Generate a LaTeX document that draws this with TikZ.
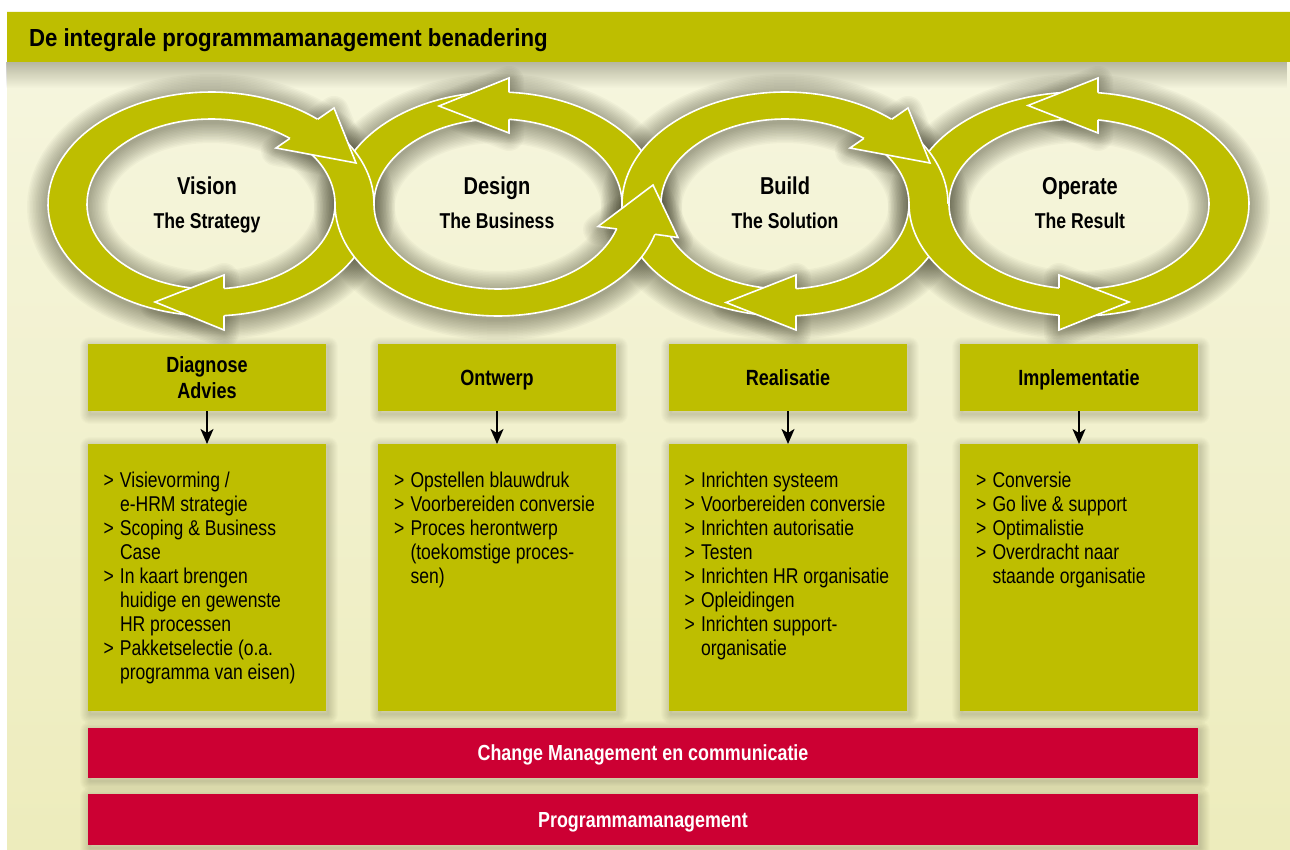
\documentclass[tikz,border=0pt]{standalone}
\usepackage{fontspec}
\setmainfont[FakeStretch=0.82]{Liberation Sans}
\newfontfamily\titlefont[FakeStretch=0.9]{Liberation Sans}
\usetikzlibrary{fadings,arrows.meta}
\definecolor{olivegreen}{RGB}{190,190,0}
\definecolor{barred}{RGB}{204,0,51}
\definecolor{bgtop}{RGB}{246,246,224}
\definecolor{bgbot}{RGB}{237,236,188}
\definecolor{shadowc}{RGB}{40,40,20}

\newcommand\ringpiece[5]{%
 \fill[olivegreen] plot[domain=#4:#5,samples=90,variable=\t] ({#1+#2*cos(\t)},{204+112*sin(\t)}) -- plot[domain=#5:#4,samples=90,variable=\t] ({#1+#3*cos(\t)},{204+85*sin(\t)}) -- cycle;
 \draw[ringedge] plot[domain=#4:#5,samples=90,variable=\t] ({#1+#2*cos(\t)},{204+112*sin(\t)});
 \draw[ringedge] plot[domain=#4:#5,samples=90,variable=\t] ({#1+#3*cos(\t)},{204+85*sin(\t)});}
\newcommand\ringglow[3]{%
 \foreach \w in {3,6,...,42}{%
  \draw[glow=\w pt] plot[domain=0:360,samples=120,variable=\t] ({#1+#2*cos(\t)},{207+112*sin(\t)}) -- cycle;
  \draw[glow=\w pt] plot[domain=0:360,samples=120,variable=\t] ({#1+#3*cos(\t)},{207+85*sin(\t)}) -- cycle;}}
\newcommand\arrowhd[5]{%
 \fill[olivegreen] #1 -- #2 -- #3 -- #4 -- #5 -- cycle;
 \draw[ringedge] #1 -- #2 -- #3 -- #4 -- #5;}
\newcommand\arrowglow[5]{%
 \foreach \w in {3,6,...,30}{\draw[glow=\w pt] #1 -- #2 -- #3 -- #4 -- #5 -- cycle;}}
\newcommand\boxglow[4]{%
 \foreach \w in {2,4,...,20}{\draw[boxglowline=\w pt] (#1+2,#2+3) rectangle (#3+2,#4+3);}}
\newcommand\itm{\makebox[16.5pt][l]{>}}
\newcommand\cnt{\hspace*{16.5pt}}

\begin{document}
\begin{tikzpicture}[x=1pt,y=-1pt,
  every node/.style={inner sep=0pt,outer sep=0pt},
  ringedge/.style={draw=white,line width=1.6pt,line join=miter},
  glow/.style={draw=shadowc,line width=#1,draw opacity=0.032,line join=round},
  boxglowline/.style={draw=shadowc,line width=#1,draw opacity=0.018,line join=round},
  hdr/.style={fill=olivegreen,minimum width=238pt,minimum height=67pt,align=center,
              font=\bfseries\fontsize{22}{26}\selectfont,text height=15.8pt,text depth=0pt},
  cbox/.style={fill=olivegreen,minimum width=238pt,minimum height=267pt},
  ctext/.style={anchor=north west,align=left,font=\fontsize{21.4}{24}\selectfont},
  redbar/.style={fill=barred,minimum width=1110pt,text=white,
                 font=\bfseries\fontsize{21.8}{26}\selectfont,text height=15.8pt,text depth=0pt},
  ringtitle/.style={anchor=base,font=\bfseries\fontsize{24.4}{28}\selectfont},
  ringsub/.style={anchor=base,font=\bfseries\fontsize{21.5}{26}\selectfont},
  hdrarrow/.style={-{Stealth[length=15pt,width=13pt,inset=4pt]},line width=1.8pt}]

\useasboundingbox (0,0) rectangle (1290,850);
\fill[white] (0,0) rectangle (1290,850);
\shade[top color=bgtop,bottom color=bgbot] (7,12) rectangle (1290,850);
% title bar
\fill[shadowc,opacity=0.3,path fading=south] (7,62) rectangle (1290,88);
\fill[olivegreen] (7,12) rectangle (1290,62);
\node[anchor=base west,font=\titlefont\bfseries\fontsize{24.7}{28}\selectfont] (title) at (29,46.7) {De integrale programmamanagement benadering};

% shadows of the rings and arrowheads
\ringglow{211}{163}{124}
\ringglow{498}{163}{124}
\ringglow{785}{163}{124}
\ringglow{1079}{170}{130}
\arrowglow{(317.8,122)}{(334,111)}{(356,166)}{(276,151)}{(289.9,141)}
\arrowglow{(224,291)}{(224,278)}{(155,305)}{(224,333)}{(224,318)}
\arrowglow{(509,95)}{(509,81)}{(439,109)}{(509,136)}{(509,122)}
\arrowglow{(617,232)}{(598,229.5)}{(653,188)}{(678,240.5)}{(655,237)}
\arrowglow{(891.8,122)}{(908,111)}{(930,166)}{(850,151)}{(863.9,141)}
\arrowglow{(796,291)}{(796,278)}{(726,305.5)}{(796,333)}{(796,318)}
\arrowglow{(1098,95)}{(1098,81)}{(1028,108.5)}{(1098,136)}{(1098,122)}
\arrowglow{(1059,291)}{(1059,278)}{(1129,305)}{(1059,333)}{(1059,318)}

% ring pieces passing underneath
\ringpiece{211}{163}{124}{0}{270}
\ringpiece{498}{163}{124}{180}{360}
\ringpiece{785}{163}{124}{0}{180}
\ringpiece{1079}{170}{130}{180}{450}
% ring pieces passing on top
\ringpiece{211}{163}{124}{270}{360}
\ringpiece{498}{163}{124}{0}{180}
\ringpiece{785}{163}{124}{180}{360}
\ringpiece{1079}{170}{130}{90}{180}

% arrowheads
\arrowhd{(317.8,119.2)}{(334,108)}{(356,163)}{(276,148)}{(289.9,138.4)}
\arrowhd{(224,288.5)}{(224,275)}{(155,302)}{(224,330)}{(224,315.6)}
\arrowhd{(509,92.3)}{(509,78)}{(439,106)}{(509,133)}{(509,119.3)}
\arrowhd{(617,229)}{(598,226.5)}{(653,185)}{(678,237.5)}{(655,234.3)}
\arrowhd{(891.8,119.2)}{(908,108)}{(930,163)}{(850,148)}{(863.9,138.4)}
\arrowhd{(796,288.7)}{(796,275)}{(726,302.5)}{(796,330)}{(796,315.7)}
\arrowhd{(1098,92.7)}{(1098,78)}{(1028,105.5)}{(1098,133)}{(1098,119.9)}
\arrowhd{(1059,288)}{(1059,275)}{(1129,302)}{(1059,330)}{(1059,315.2)}

% ring texts
\node[ringtitle] (t1) at (207,195) {Vision};
\node[ringsub] (s1) at (207,228.3) {The Strategy};
\node[ringtitle] (t2) at (497,195) {Design};
\node[ringsub] (s2) at (497,228.3) {The Business};
\node[ringtitle] (t3) at (785,195) {Build};
\node[ringsub] (s3) at (785,228.3) {The Solution};
\node[ringtitle] (t4) at (1080,195) {Operate};
\node[ringsub] (s4) at (1080,228.3) {The Result};

% soft shadows of boxes and bars
\boxglow{88}{344}{326}{411}
\boxglow{378}{344}{616}{411}
\boxglow{669}{344}{907}{411}
\boxglow{960}{344}{1198}{411}
\boxglow{88}{444}{326}{711}
\boxglow{378}{444}{616}{711}
\boxglow{669}{444}{907}{711}
\boxglow{960}{444}{1198}{711}
\boxglow{88}{728}{1198}{778}
\boxglow{88}{794}{1198}{845}

% header boxes
\node[hdr,text height=41.8pt] (h1) at (207,377.5) {Diagnose\\Advies};
\node[hdr] (h2) at (497,377.5) {Ontwerp};
\node[hdr] (h3) at (788,377.5) {Realisatie};
\node[hdr] (h4) at (1079,377.5) {Implementatie};

% content boxes
\node[cbox] (c1) at (207,577.5) {};
\node[cbox] (c2) at (497,577.5) {};
\node[cbox] (c3) at (788,577.5) {};
\node[cbox] (c4) at (1079,577.5) {};

\node[ctext] (l1) at ([shift={(15.5,27.5)}]c1.north west) {\itm Visievorming /\\ \cnt e-HRM strategie\\ \itm Scoping \& Business\\ \cnt Case\\ \itm In kaart brengen\\ \cnt huidige en gewenste\\ \cnt HR processen\\ \itm Pakketselectie (o.a.\\ \cnt programma van eisen)};
\node[ctext] (l2) at ([shift={(16,27.5)}]c2.north west) {\itm Opstellen blauwdruk\\ \itm Voorbereiden conversie\\ \itm Proces herontwerp\\ \cnt (toekomstige proces-\\ \cnt sen)};
\node[ctext] (l3) at ([shift={(15.5,27.5)}]c3.north west) {\itm Inrichten systeem\\ \itm Voorbereiden conversie\\ \itm Inrichten autorisatie\\ \itm Testen\\ \itm Inrichten HR organisatie\\ \itm Opleidingen\\ \itm Inrichten support-\\ \cnt organisatie};
\node[ctext] (l4) at ([shift={(16,27.5)}]c4.north west) {\itm Conversie\\ \itm Go live \& support\\ \itm Optimalistie\\ \itm Overdracht naar\\ \cnt staande organisatie};

\draw[hdrarrow] (h1) -- (c1);
\draw[hdrarrow] (h2) -- (c2);
\draw[hdrarrow] (h3) -- (c3);
\draw[hdrarrow] (h4) -- (c4);

% red bars
\node[redbar,minimum height=50pt] (cm) at (643,753) {Change Management en communicatie};
\node[redbar,minimum height=51pt] (pm) at (643,819.5) {Programmamanagement};
\end{tikzpicture}
\end{document}
